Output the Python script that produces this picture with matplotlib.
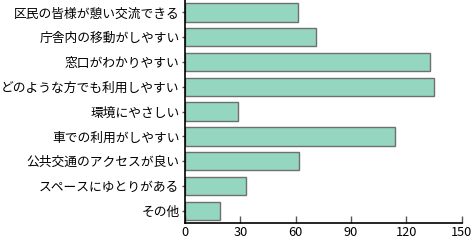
import matplotlib
matplotlib.use("Agg")
import matplotlib.pyplot as plt

plt.rcParams["font.family"] = ["Noto Sans CJK JP", "DejaVu Sans"]

labels = ["区民の皆様が憩い交流できる", "庁舎内の移動がしやすい", "窓口がわかりやすい",
          "どのような方でも利用しやすい", "環境にやさしい", "車での利用がしやすい",
          "公共交通のアクセスが良い", "スペースにゆとりがある", "その他"]
values = [61, 71, 133, 135, 29, 114, 62, 33, 19]
xticks = [0, 30, 60, 90, 120, 150]

fig = plt.figure(figsize=(4.72, 2.4), dpi=100)
ax = fig.add_axes([0.392, 0.07, 0.586, 0.93])
ypos = list(range(len(labels)))
ax.barh(ypos, values, height=0.735, color="#95d6c0", edgecolor="#6f6f6f",
        linewidth=1.0)
ax.set_ylim(len(labels) - 0.5, -0.5)
ax.set_xlim(0, 150)
ax.set_yticks(ypos)
ax.set_yticklabels(labels, fontsize=9.2)
ax.set_xticks(xticks)
ax.set_xticklabels([str(t) for t in xticks], fontsize=9.2)
ax.tick_params(axis="x", direction="in", length=5, width=1, pad=2, color="#555555")
ax.tick_params(axis="y", direction="out", length=2, width=1, pad=2, color="#555555")
for s in ["top", "right"]:
    ax.spines[s].set_visible(False)
for s in ["left", "bottom"]:
    ax.spines[s].set_color("black")
    ax.spines[s].set_linewidth(1.2)

fig.savefig("out.png", dpi=100)
